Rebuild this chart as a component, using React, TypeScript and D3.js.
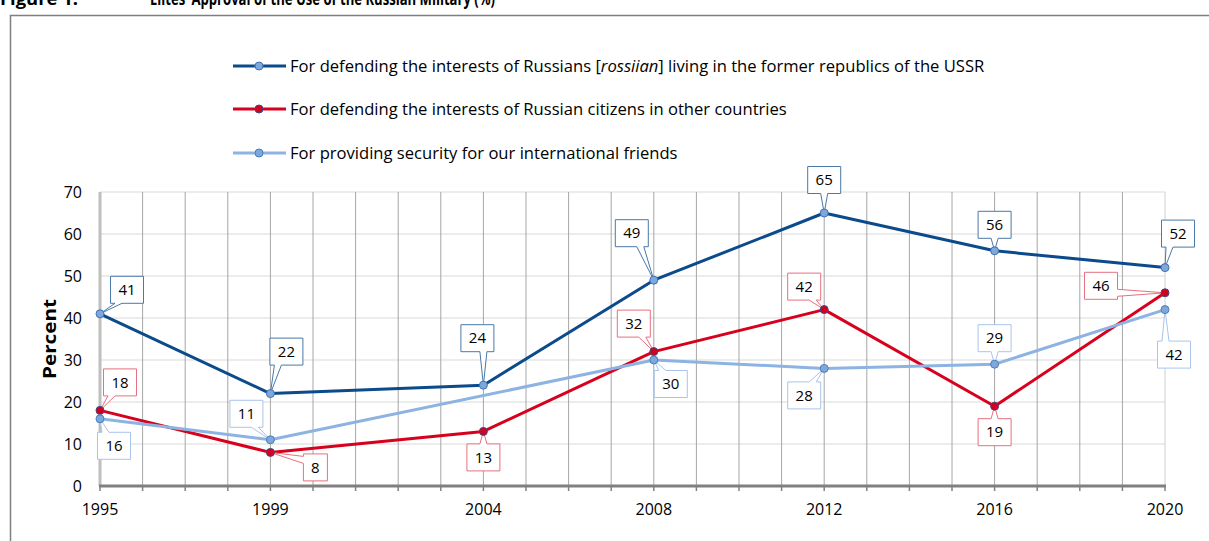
import React from "react";
import * as d3 from "d3";

const years = [1995, 1999, 2004, 2008, 2012, 2016, 2020];
const defendingRussiansUSSR: (number | null)[] = [41, 22, 24, 49, 65, 56, 52];
const defendingCitizensAbroad: (number | null)[] = [18, 8, 13, 32, 42, 19, 46];
const securityForFriends: (number | null)[] = [16, 11, null, 30, 28, 29, 42];
const yTicks = [0, 10, 20, 30, 40, 50, 60, 70];
const xTickLabels = [1995, 1999, 2004, 2008, 2012, 2016, 2020];
const seriesNames = [
  "For defending the interests of Russians [",
  "For defending the interests of Russian citizens in other countries",
  "For providing security for our international friends",
];
const titleText = "Figure 1.";
const titleRest = "Elites\u2019 Approval of the Use of the Russian Military (%)";

// label callout offsets (box center relative to point), per series
const labelOffsets1 = [[27, -24], [16, -42], [-6, -47], [-22, -47], [0, -33], [0, -26], [13, -34]];
const labelOffsets2 = [[20, -28], [45, 15], [0, 26], [-20, -28], [-20, -23], [0, 26], [-64, -7]];
const labelOffsets3 = [[14, 27], [-24, -26], [0, 0], [17, 24], [-20, 27], [0, -26], [9, 45]];

const W = 1209;
const H = 541;
const FONT = "'Open Sans', 'Noto Sans', sans-serif";

const x = d3.scaleLinear().domain([1995, 2020]).range([100, 1165]);
const y = d3.scaleLinear().domain([0, 70]).range([486, 192]);

type S = {
  values: (number | null)[];
  line: string;
  lineWidth: number;
  markerFill: string;
  markerStroke: string;
  boxStroke: string;
  offsets: number[][];
};

const series: S[] = [
  { values: defendingRussiansUSSR, line: "#0b4a8b", lineWidth: 3, markerFill: "#7ea8dc", markerStroke: "#3f72b5", boxStroke: "#4a78a8", offsets: labelOffsets1 },
  { values: defendingCitizensAbroad, line: "#d7001d", lineWidth: 3, markerFill: "#d0021e", markerStroke: "#3b4a8a", boxStroke: "#e6707f", offsets: labelOffsets2 },
  { values: securityForFriends, line: "#8db3e2", lineWidth: 3, markerFill: "#7ea8dc", markerStroke: "#4a7ebb", boxStroke: "#a9c4eb", offsets: labelOffsets3 },
];

function calloutPath(cx: number, cy: number, w: number, h: number, px: number, py: number) {
  const x0 = cx - w / 2, x1 = cx + w / 2, y0 = cy - h / 2, y1 = cy + h / 2;
  const gx = Math.max(x0 - px, px - x1, 0);
  const gy = Math.max(y0 - py, py - y1, 0);
  const hw = 3.5;
  if (gy >= gx) {
    const bc = Math.max(x0 + 8, Math.min(x1 - 8, px));
    if (py < y0) {
      return `M${x0},${y0}H${bc - hw}L${px},${py}L${bc + hw},${y0}H${x1}V${y1}H${x0}Z`;
    }
    return `M${x0},${y0}H${x1}V${y1}H${bc + hw}L${px},${py}L${bc - hw},${y1}H${x0}Z`;
  }
  const bc = Math.max(y0 + 6, Math.min(y1 - 6, py));
  if (px < x0) {
    return `M${x0},${y0}H${x1}V${y1}H${x0}V${bc + hw}L${px},${py}L${x0},${bc - hw}Z`;
  }
  return `M${x0},${y0}H${x1}V${bc - hw}L${px},${py}L${x1},${bc + hw}V${y1}H${x0}Z`;
}

export default function App() {
  const allYears = d3.range(1995, 2021);
  const lineGen = d3
    .line<[number, number | null]>()
    .x((d) => x(d[0]))
    .y((d) => y(d[1] as number));

  return (
    <svg width={W} height={H} style={{ position: "absolute", left: 0, top: 0, background: "#fff" }} fontFamily={FONT}>
      {/* title (cut at top, as in the source) */}
      <text x={0} y={5} fontSize={17} fontWeight="bold" fill="#000" textLength={78} lengthAdjust="spacingAndGlyphs">{titleText}</text>
      <text x={150} y={5} fontSize={17} fontWeight="bold" fill="#000" textLength={345} lengthAdjust="spacingAndGlyphs">{titleRest}</text>
      {/* frame */}
      <path d={`M10.5,${H}V15.5H${W}`} fill="none" stroke="#7f7f7f" strokeWidth={1.5} />

      {/* horizontal gridlines */}
      {yTicks.filter((t) => t > 0).map((t) => (
        <line key={"h" + t} x1={x(1995)} x2={x(2020)} y1={y(t)} y2={y(t)} stroke="#d9d9d9" strokeWidth={1} />
      ))}
      {/* vertical gridlines */}
      {allYears.slice(1).map((yr) => (
        <line key={"v" + yr} x1={x(yr)} x2={x(yr)} y1={y(70)} y2={y(0)} stroke={yr === 2020 ? "#d0d0d0" : "#a6a6a6"} strokeWidth={1} />
      ))}
      {/* left axis */}
      <line x1={x(1995)} x2={x(1995)} y1={y(70)} y2={y(0)} stroke="#bfbfbf" strokeWidth={3} />
      {/* x axis ticks */}
      {allYears.map((yr) => (
        <line key={"t" + yr} x1={x(yr)} x2={x(yr)} y1={y(0)} y2={y(0) + 5} stroke="#808080" strokeWidth={1.5} />
      ))}
      <line x1={x(1995) - 1} x2={x(2020) + 1} y1={y(0)} y2={y(0)} stroke="#808080" strokeWidth={3} />

      {/* y tick labels */}
      {yTicks.map((t) => (
        <text key={"yl" + t} x={82} y={y(t)} dy="0.35em" textAnchor="end" fontSize={16} fill="#000">{t}</text>
      ))}
      {/* x tick labels */}
      {xTickLabels.map((t) => (
        <text key={"xl" + t} x={x(t)} y={509} dy="0.35em" textAnchor="middle" fontSize={16} fill="#000">{t}</text>
      ))}
      <text transform={`translate(56,${y(35)}) rotate(-90)`} textAnchor="middle" fontSize={17} fontWeight="bold" fill="#000" textLength={80} lengthAdjust="spacingAndGlyphs">Percent</text>

      {/* legend */}
      {series.map((s, i) => {
        const ly = [66, 109, 153][i];
        return (
          <g key={"lg" + i}>
            <line x1={233} x2={286} y1={ly} y2={ly} stroke={s.line} strokeWidth={3} />
            <circle cx={259} cy={ly} r={4} fill={s.markerFill} stroke={s.markerStroke} strokeWidth={1} />
            <text x={290} y={ly} dy="0.35em" fontSize={16.6} fill="#000">
              {i === 0 ? (
                <>
                  {seriesNames[0]}
                  <tspan fontStyle="italic">rossiian</tspan>
                  {"] living in the former republics of the USSR"}
                </>
              ) : (
                seriesNames[i]
              )}
            </text>
          </g>
        );
      })}

      {/* lines */}
      {series.map((s, i) => {
        const pts = years.map((yr, j) => [yr, s.values[j]] as [number, number | null]).filter((d) => d[1] !== null);
        return <path key={"ln" + i} d={lineGen(pts) || ""} fill="none" stroke={s.line} strokeWidth={s.lineWidth} strokeLinejoin="round" />;
      })}

      {/* callouts */}
      {series.map((s, i) =>
        years.map((yr, j) => {
          const v = s.values[j];
          if (v === null) return null;
          const px = x(yr), py = y(v);
          const [ox, oy] = s.offsets[j];
          const w = String(v).length > 1 ? 33 : 24;
          const h = 27;
          return (
            <g key={`c${i}-${j}`}>
              <path d={calloutPath(px + ox, py + oy, w, h, px, py)} fill="#fff" stroke={s.boxStroke} strokeWidth={1} />
              <text x={px + ox} y={py + oy} dy="0.35em" textAnchor="middle" fontSize={15} fill="#000">{v}</text>
            </g>
          );
        })
      )}

      {/* markers */}
      {series.map((s, i) =>
        years.map((yr, j) => {
          const v = s.values[j];
          if (v === null) return null;
          return <circle key={`m${i}-${j}`} cx={x(yr)} cy={y(v)} r={4} fill={s.markerFill} stroke={s.markerStroke} strokeWidth={1} />;
        })
      )}
    </svg>
  );
}
